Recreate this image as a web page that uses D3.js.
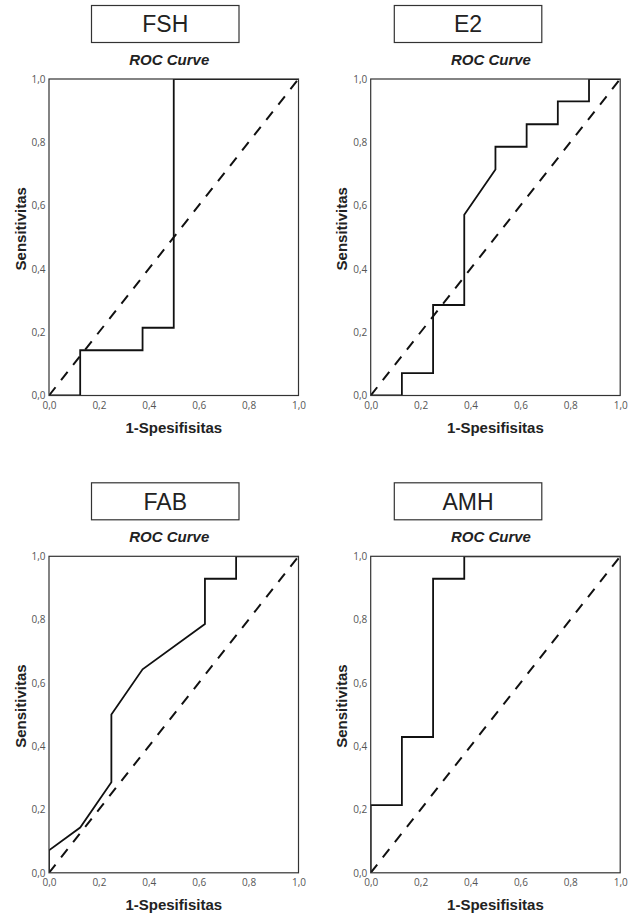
<!DOCTYPE html>
<html>
<head>
<meta charset="utf-8">
<script src="https://cdn.jsdelivr.net/npm/d3@7/dist/d3.min.js"></script>
<style>
  html, body { margin: 0; padding: 0; background: #fff; }
  svg { display: block; }
</style>
</head>
<body>
<svg id="chart" width="629" height="913"></svg>
<script>
// ---------------- DATA ----------------
const panelNames = ["FSH", "E2", "FAB", "AMH"];
const chartTitle = "ROC Curve";
const xAxisLabel = "1-Spesifisitas";
const yAxisLabel = "Sensitivitas";

const tickValues = [0, 0.2, 0.4, 0.6, 0.8, 1.0];
const tickLabels = ["0,0", "0,2", "0,4", "0,6", "0,8", "1,0"];

// ROC curve points (1 - specificity, sensitivity)
const fshX = [0, 0.125, 0.125, 0.375, 0.375, 0.5, 0.5, 1];
const fshY = [0, 0, 0.143, 0.143, 0.214, 0.214, 1, 1];

const e2X = [0, 0.125, 0.125, 0.25, 0.25, 0.375, 0.375, 0.5, 0.5, 0.625, 0.625, 0.75, 0.75, 0.875, 0.875, 1];
const e2Y = [0, 0, 0.071, 0.071, 0.286, 0.286, 0.571, 0.714, 0.786, 0.786, 0.857, 0.857, 0.929, 0.929, 1, 1];

const fabX = [0, 0, 0.125, 0.25, 0.25, 0.375, 0.625, 0.625, 0.75, 0.75, 1];
const fabY = [0, 0.071, 0.143, 0.286, 0.5, 0.643, 0.786, 0.929, 0.929, 1, 1];

const amhX = [0, 0, 0.125, 0.125, 0.25, 0.25, 0.375, 0.375, 1];
const amhY = [0, 0.214, 0.214, 0.429, 0.429, 0.929, 0.929, 1, 1];

const refX = [0, 1];
const refY = [0, 1];

const seriesX = [fshX, e2X, fabX, amhX];
const seriesY = [fshY, e2Y, fabY, amhY];

// ---------------- LAYOUT ----------------
const plotW = 249.5, plotH = 316.5;
const plotLeft = [49, 370.7, 49, 370.7];
const plotTop = [79, 79, 556.3, 556.3];
const boxLeft = [91.5, 394.3, 91.5, 394.3];
const boxW = 147.5, boxH = 37, boxOffset = 73.5;

const svg = d3.select("#chart");
const defs = svg.append("defs");
defs.append("clipPath").attr("id", "plotClip")
  .append("rect").attr("x", 0).attr("y", 0).attr("width", plotW).attr("height", plotH);

panelNames.forEach((name, i) => {
  const g = svg.append("g").attr("transform", `translate(${plotLeft[i]},${plotTop[i]})`);
  const x = d3.scaleLinear().domain([0, 1]).range([0, plotW]);
  const y = d3.scaleLinear().domain([0, 1]).range([plotH, 0]);

  // Title box
  svg.append("rect")
    .attr("x", boxLeft[i]).attr("y", plotTop[i] - boxOffset)
    .attr("width", boxW).attr("height", boxH)
    .attr("fill", "#fff").attr("stroke", "#333").attr("stroke-width", 1.2);
  svg.append("text")
    .attr("x", boxLeft[i] + boxW / 2).attr("y", plotTop[i] - boxOffset + boxH / 2 + 8.2)
    .attr("text-anchor", "middle")
    .attr("font-family", "Liberation Sans, Arial, sans-serif")
    .attr("font-size", 23).attr("fill", "#222")
    .text(name);

  // ROC Curve title
  g.append("text")
    .attr("x", plotW / 2 - 4.5).attr("y", -14.5)
    .attr("text-anchor", "middle")
    .attr("font-family", "Liberation Sans, Arial, sans-serif")
    .attr("font-size", 15).attr("font-weight", "bold").attr("font-style", "italic")
    .attr("fill", "#222")
    .text(chartTitle);

  // Axes (labels only)
  const yAxis = d3.axisLeft(y).tickValues(tickValues).tickSize(0).tickPadding(3.5)
    .tickFormat((d, k) => tickLabels[k]);
  const xAxis = d3.axisBottom(x).tickValues(tickValues).tickSize(0).tickPadding(6)
    .tickFormat((d, k) => tickLabels[k]);

  const ya = g.append("g").call(yAxis);
  const xa = g.append("g").attr("transform", `translate(0,${plotH})`).call(xAxis);
  [ya, xa].forEach(a => {
    a.select(".domain").remove();
    a.selectAll("text")
      .attr("font-family", "Open Sans, sans-serif")
      .attr("font-size", 10).attr("fill", "#555");
  });

  // Axis titles
  g.append("text")
    .attr("transform", `translate(-29,${plotH / 2 - 8.5}) rotate(-90)`)
    .attr("text-anchor", "middle").attr("dominant-baseline", "central")
    .attr("font-family", "Liberation Sans, Arial, sans-serif")
    .attr("font-size", 15).attr("font-weight", "bold").attr("fill", "#222")
    .text(yAxisLabel);
  g.append("text")
    .attr("x", plotW / 2).attr("y", plotH + 37)
    .attr("text-anchor", "middle")
    .attr("font-family", "Liberation Sans, Arial, sans-serif")
    .attr("font-size", 15).attr("font-weight", "bold").attr("fill", "#222")
    .text(xAxisLabel);

  const line = d3.line().x(d => x(d[0])).y(d => y(d[1]));
  const inner = g.append("g").attr("clip-path", "url(#plotClip)");

  // Reference diagonal
  inner.append("path")
    .datum(d3.zip(refX, refY))
    .attr("d", line)
    .attr("fill", "none").attr("stroke", "#111").attr("stroke-width", 2)
    .attr("stroke-dasharray", "10.5,9");

  // ROC curve
  inner.append("path")
    .datum(d3.zip(seriesX[i], seriesY[i]))
    .attr("d", line)
    .attr("fill", "none").attr("stroke", "#111").attr("stroke-width", 1.8)
    .attr("stroke-linejoin", "miter");

  // Plot frame
  g.append("rect")
    .attr("x", 0).attr("y", 0).attr("width", plotW).attr("height", plotH)
    .attr("fill", "none").attr("stroke", "#333").attr("stroke-width", 1.2);
});
</script>
</body>
</html>
